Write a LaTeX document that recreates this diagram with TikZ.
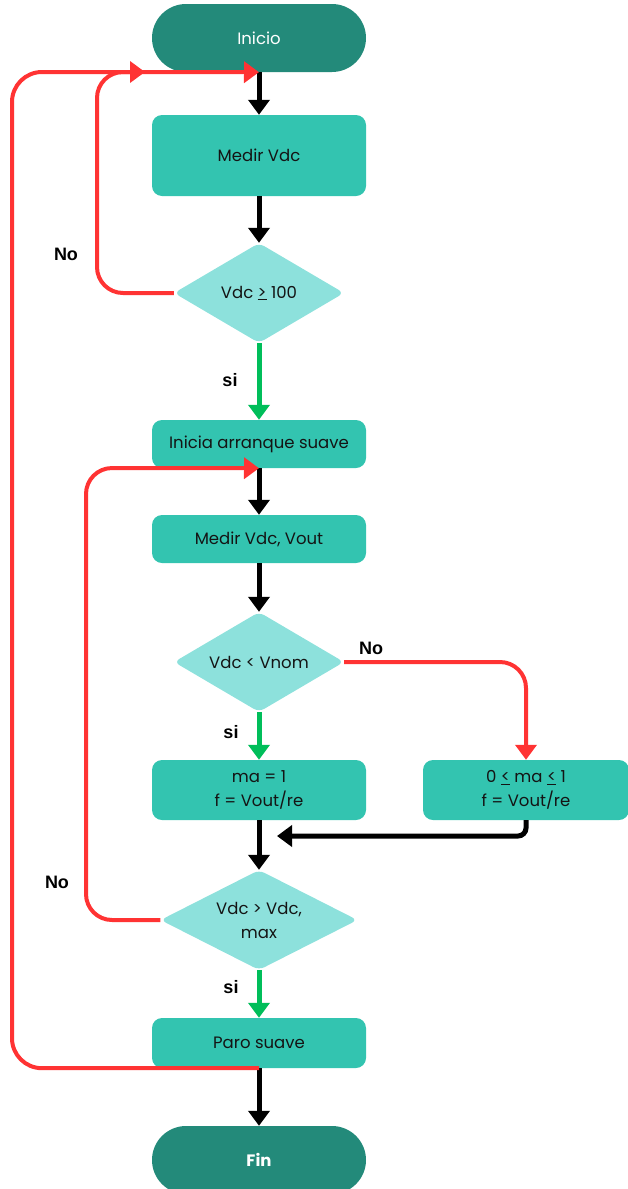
\documentclass[tikz,border=0pt]{standalone}
\usepackage{fontspec}
\setmainfont{Poppins}
\newfontfamily\labelfont{Liberation Sans}
\usetikzlibrary{shapes.geometric,arrows.meta}

\definecolor{termfill}{RGB}{35,138,122}
\definecolor{procfill}{RGB}{51,196,176}
\definecolor{decfill}{RGB}{141,225,220}
\definecolor{noline}{RGB}{255,51,51}
\definecolor{yesline}{RGB}{0,190,90}
\definecolor{txt}{RGB}{20,20,20}

\begin{document}
\begin{tikzpicture}[x=1pt,y=-1pt,
  every node/.style={font=\fontsize{16.5}{24}\selectfont, text=txt},
  terminal/.style={fill=termfill, text=white, rounded corners=34pt,
    minimum width=214pt, minimum height=68pt, inner sep=0pt},
  process/.style={fill=procfill, rounded corners=10pt, minimum width=214pt,
    inner sep=0pt, align=center},
  decision/.style={diamond, fill=decfill, rounded corners=6pt, inner sep=0pt,
    aspect=1.7, align=center, minimum width=170pt, minimum height=100pt},
  lbl/.style={font=\labelfont\bfseries\fontsize{18}{20}\selectfont, text=black},
  tip/.style={-{Triangle[width=21pt,length=15pt]}},
  blackflow/.style={tip, draw=black, line width=5pt},
  yesflow/.style={tip, draw=yesline, line width=5pt},
  noflow/.style={tip, draw=noline, line width=4pt, rounded corners=26pt},
]
\useasboundingbox (0,0) rectangle (627,1189);

% blocks
\node[terminal] (start) at (259,38) {Inicio};
\node[process, minimum height=81pt] (m1) at (259,155.5) {Medir Vdc};
\node[decision] (d1) at (259,293) {Vdc \underline{>} 100};
\node[process, minimum height=48pt] (soft) at (259,444) {Inicia arranque suave};
\node[process, minimum height=48pt] (m2) at (259,539) {Medir Vdc, Vout};
\node[decision] (d2) at (259,662) {Vdc < Vnom};
\node[process, minimum height=60pt] (p1) at (259,790) {ma = 1\\f = Vout/re};
\node[process, minimum height=60pt, minimum width=206pt] (p2) at (526,790)
  {0 \underline{<} ma \underline{<} 1\\f = Vout/re};
\node[decision, minimum width=197pt] (d3) at (259,920) {Vdc > Vdc,\\max};
\node[process, minimum height=50pt] (stop) at (259,1043) {Paro suave};
\node[terminal] (end) at (259,1160) {\bfseries Fin};

% free ends
\coordinate (outerTip) at (145,72);
\coordinate (join) at (277,836);

% main flow
\draw[blackflow] (start.south) -- (m1.north);
\draw[blackflow] (m1.south) -- (d1.north);
\draw[yesflow] (d1.south) -- (soft.north);
\draw[blackflow] (soft.south) -- (m2.north);
\draw[blackflow] (m2.south) -- (d2.north);
\draw[yesflow] (d2.south) -- (p1.north);
\draw[blackflow] (p1.south) -- (d3.north);
\draw[blackflow, rounded corners=8pt] (p2.south) |- (join);
\draw[yesflow] (d3.south) -- (stop.north);
\draw[blackflow] (stop.south) -- (end.north);

% loops back
\draw[noflow] (d2.east) -| (p2.north);
\draw[noflow] (d1.west) -| (97,72) -- (start.south);
\draw[noflow] (d3.west) -| (86,468) -- (soft.south);
\draw[noflow, rounded corners=30pt] (stop.south) -| (12,72) -- (outerTip);

% branch labels
\node[lbl] (no1) at (66,254) {No};
\node[lbl] (si1) at (230,380) {si};
\node[lbl] (no2) at (371,648) {No};
\node[lbl] (si2) at (231,732) {si};
\node[lbl] (no3) at (57,882) {No};
\node[lbl] (si3) at (231,987) {si};
\end{tikzpicture}
\end{document}
